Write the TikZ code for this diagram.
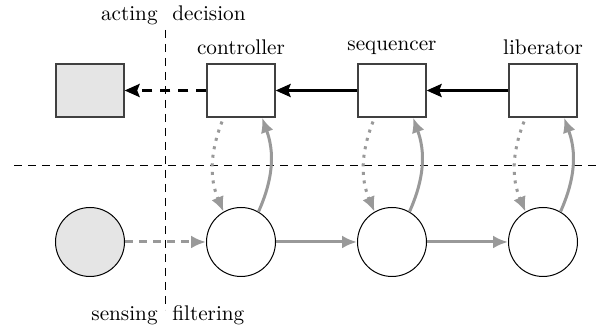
\documentclass[tikz,border=0pt]{standalone}
\usepackage{fontspec}
\usetikzlibrary{arrows.meta,calc}
\begin{document}
\begin{tikzpicture}[x=0.5pt,y=-0.5pt,
  font=\rmfamily\fontsize{10.6}{13}\selectfont,
  blk/.style={draw=black!75, line width=0.6pt, minimum width=34pt, minimum height=26.5pt, inner sep=0pt},
  crc/.style={draw, circle, line width=0.5pt, minimum size=34.5pt, inner sep=0pt},
  divider/.style={line width=0.45pt, dash pattern=on 4pt off 3pt},
  cmd/.style={line width=1.5pt, -{Stealth[length=7.5pt,width=6.5pt,inset=1.2pt]}},
  sig/.style={draw=black!40, line width=1.5pt, -{Latex[length=7.5pt,width=6.5pt]}},
  bendy/.style={sig, bend right=22}
]
\useasboundingbox (0,0) rectangle (600,330);

% region dividers
\coordinate (vtop) at (165,30);
\coordinate (vbot) at (165,310);
\coordinate (hl) at (14,165);
\coordinate (hr) at (597,165);
\draw[divider] (vtop) -- (vbot);
\draw[divider] (hl) -- (hr);

% region labels
\node[anchor=base east, inner sep=0pt] (acting) at (158,21) {acting};
\node[anchor=base west, inner sep=0pt] (decision) at (172,21) {decision};
\node[anchor=base east, inner sep=0pt] (sensing) at (158,321) {sensing};
\node[anchor=base west, inner sep=0pt] (filtering) at (172,321) {filtering};

% decision layer
\node[blk, fill=black!10] (act) at (90,90.5) {};
\node[blk, label={[label distance=1pt]above:controller}] (ctrl) at (241,90.5) {};
\node[blk, label={[label distance=1pt]above:sequencer}] (seq) at (392,90.5) {};
\node[blk, label={[label distance=1pt]above:liberator}] (lib) at (543,90.5) {};

% filtering layer
\node[crc, fill=black!10] (sen) at (90,242) {};
\node[crc] (f1) at (241,242) {};
\node[crc] (f2) at (392,242) {};
\node[crc] (f3) at (543,242) {};

% command flow
\draw[cmd, dash pattern=on 5pt off 4pt] (ctrl) -- (act);
\draw[cmd] (seq) -- (ctrl);
\draw[cmd] (lib) -- (seq);

% signal flow
\draw[sig, dash pattern=on 4pt off 3pt] (sen) -- (f1);
\draw[sig] (f1) -- (f2);
\draw[sig] (f2) -- (f3);

% vertical exchanges between layers
\foreach \b/\f in {ctrl/f1, seq/f2, lib/f3}{
  \draw[bendy, dash pattern=on 1.5pt off 2.8pt] ($(\b.south)+(-19,4)$) to (\f.120);
  \draw[bendy] (\f.60) to ($(\b.south)+(21,0)$);
}
\end{tikzpicture}
\end{document}
